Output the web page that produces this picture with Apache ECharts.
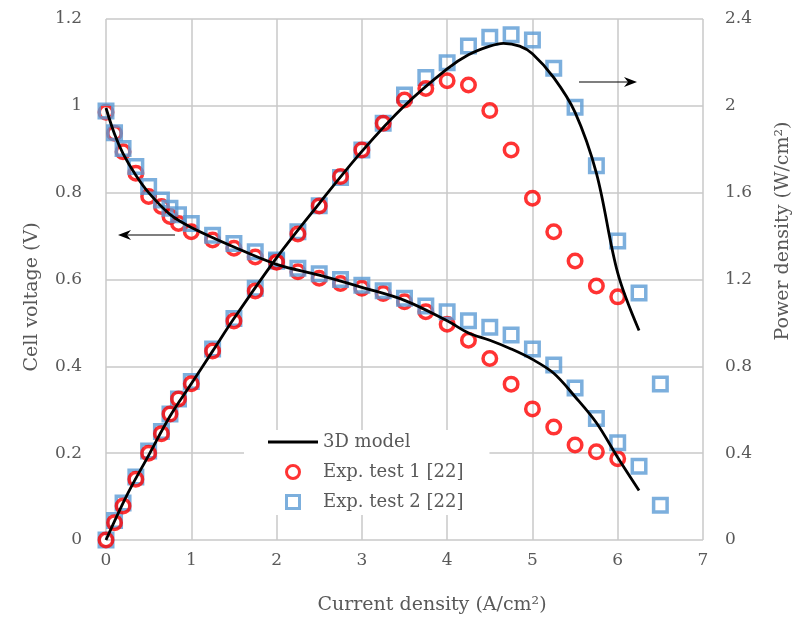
<!DOCTYPE html>
<html>
<head>
<meta charset="utf-8">
<script src="https://cdn.jsdelivr.net/npm/echarts@6/dist/echarts.min.js"></script>
<style>
  html, body { margin: 0; padding: 0; background: #fff; }
  #chart { width: 797px; height: 626px; }
</style>
</head>
<body>
<div id="chart"></div>
<script>
// current density (A/cm2)
var currentTest1 = [0, 0.1, 0.2, 0.35, 0.5, 0.65, 0.75, 0.85, 1, 1.25, 1.5, 1.75, 2, 2.25, 2.5, 2.75, 3, 3.25, 3.5, 3.75, 4, 4.25, 4.5, 4.75, 5, 5.25, 5.5, 5.75, 6]
var currentTest2 = [0, 0.1, 0.2, 0.35, 0.5, 0.65, 0.75, 0.85, 1, 1.25, 1.5, 1.75, 2, 2.25, 2.5, 2.75, 3, 3.25, 3.5, 3.75, 4, 4.25, 4.5, 4.75, 5, 5.25, 5.5, 5.75, 6, 6.25, 6.5]

// exp. test 1
var voltageTest1 = [0.985, 0.937, 0.894, 0.845, 0.791, 0.768, 0.745, 0.729, 0.71, 0.691, 0.672, 0.652, 0.641, 0.618, 0.603, 0.591, 0.58, 0.568, 0.549, 0.526, 0.497, 0.46, 0.418, 0.359, 0.302, 0.26, 0.219, 0.203, 0.187]
var powerTest1 = [0, 0.08, 0.157, 0.28, 0.4, 0.49, 0.58, 0.65, 0.72, 0.871, 1.009, 1.147, 1.28, 1.41, 1.539, 1.674, 1.797, 1.92, 2.027, 2.08, 2.116, 2.096, 1.978, 1.797, 1.574, 1.42, 1.285, 1.17, 1.12]

// exp. test 2
var voltageTest2 = [0.988, 0.938, 0.902, 0.86, 0.814, 0.783, 0.764, 0.749, 0.729, 0.702, 0.683, 0.664, 0.642, 0.626, 0.613, 0.6, 0.587, 0.574, 0.557, 0.539, 0.526, 0.505, 0.49, 0.472, 0.44, 0.403, 0.35, 0.28, 0.224, 0.17, 0.08]
var powerTest2 = [0, 0.09, 0.17, 0.29, 0.41, 0.5, 0.58, 0.65, 0.73, 0.88, 1.02, 1.16, 1.29, 1.42, 1.54, 1.67, 1.797, 1.92, 2.05, 2.13, 2.199, 2.276, 2.316, 2.327, 2.303, 2.173, 1.993, 1.724, 1.377, 1.138, 0.719]

// 3D model
var currentModelV = [0, 0.1, 0.2, 0.35, 0.5, 0.75, 1, 1.5, 2, 2.5, 3, 3.5, 4, 4.25, 4.5, 4.75, 5, 5.25, 5.5, 5.75, 6, 6.25]
var voltageModel = [0.995, 0.935, 0.89, 0.84, 0.8, 0.75, 0.72, 0.675, 0.635, 0.61, 0.582, 0.552, 0.505, 0.477, 0.46, 0.44, 0.416, 0.384, 0.33, 0.27, 0.19, 0.114]
var currentModelP = [0, 0.25, 0.5, 0.75, 1, 1.25, 1.5, 2, 2.5, 3, 3.5, 4, 4.25, 4.5, 4.66, 4.85, 5, 5.25, 5.5, 5.75, 6, 6.25]
var powerModel = [0, 0.21, 0.39, 0.57, 0.72, 0.87, 1.02, 1.3, 1.55, 1.79, 2.0, 2.17, 2.235, 2.275, 2.288, 2.275, 2.24, 2.13, 1.97, 1.69, 1.23, 0.965]

var voltageTicks = ['0', '0.2', '0.4', '0.6', '0.8', '1', '1.2']
var powerTicks = ['0', '0.4', '0.8', '1.2', '1.6', '2', '2.4']

function pairs(xs, ys) {
  return xs.map(function (x, i) { return [x, ys[i]] })
}

var font = 'DejaVu Serif'
var textColor = '#595959'
var gridColor = '#c8c8c8'
var red = '#ff0000'
var blue = '#5b9bd5'

var circleStyle = { color: 'transparent', borderColor: red, borderWidth: 3.5 }
var squareStyle = { color: 'transparent', borderColor: blue, borderWidth: 3.5 }

var chart = echarts.init(document.getElementById('chart'))

chart.setOption({
  animation: false,
  backgroundColor: '#fff',
  textStyle: { fontFamily: font },
  grid: { left: 106, right: 94, top: 19, bottom: 86 },
  legend: {
    orient: 'vertical',
    left: 244,
    top: 430,
    backgroundColor: '#fff',
    padding: [3, 26, 4, 24],
    itemWidth: 50,
    itemHeight: 13,
    itemGap: 12,
    symbolKeepAspect: true,
    textStyle: { fontFamily: font, fontSize: 18, color: textColor },
    data: [
      { name: '3D model', icon: 'path://M0,0H50V3H0Z', itemStyle: { color: '#000', borderWidth: 0 } },
      { name: 'Exp. test 1 [22]', icon: 'circle', itemStyle: { color: 'transparent', borderColor: red, borderWidth: 3 } },
      { name: 'Exp. test 2 [22]', icon: 'path://M0,0H10V10H0Z', itemStyle: { color: 'transparent', borderColor: blue, borderWidth: 3 } }
    ]
  },
  xAxis: {
    type: 'value',
    min: 0, max: 7, interval: 1,
    axisLine: { show: false },
    axisTick: { show: false },
    axisLabel: { fontFamily: font, fontSize: 17, color: textColor, margin: 12 },
    splitLine: { lineStyle: { color: gridColor, width: 1.5 } }
  },
  yAxis: [
    {
      type: 'value',
      min: 0, max: 1.2, interval: 0.2,
      axisLine: { show: false },
      axisTick: { show: false },
      axisLabel: {
        fontFamily: font, fontSize: 17, color: textColor, margin: 24,
        formatter: function (v, i) { return voltageTicks[i] }
      },
      splitLine: { lineStyle: { color: gridColor, width: 1.5 } }
    },
    {
      type: 'value',
      min: 0, max: 2.4, interval: 0.4,
      axisLine: { show: false },
      axisTick: { show: false },
      axisLabel: {
        fontFamily: font, fontSize: 17, color: textColor, margin: 22,
        formatter: function (v, i) { return powerTicks[i] }
      },
      splitLine: { show: false }
    }
  ],
  series: [
    {
      name: 'Exp. test 1 [22]', type: 'scatter', yAxisIndex: 0, z: 2,
      symbol: 'circle', symbolSize: 13.5, itemStyle: circleStyle,
      data: pairs(currentTest1, voltageTest1)
    },
    {
      name: 'Exp. test 2 [22]', type: 'scatter', yAxisIndex: 0, z: 3,
      symbol: 'rect', symbolSize: 13.5, itemStyle: squareStyle,
      data: pairs(currentTest2, voltageTest2)
    },
    {
      name: 'Exp. test 2 [22]', type: 'scatter', yAxisIndex: 1, z: 3,
      symbol: 'rect', symbolSize: 13.5, itemStyle: squareStyle,
      data: pairs(currentTest2, powerTest2)
    },
    {
      name: 'Exp. test 1 [22]', type: 'scatter', yAxisIndex: 1, z: 4,
      symbol: 'circle', symbolSize: 13.5, itemStyle: circleStyle,
      data: pairs(currentTest1, powerTest1)
    },
    {
      name: '3D model', type: 'line', yAxisIndex: 0, z: 5,
      symbol: 'none', smooth: 0.35,
      lineStyle: { color: '#000', width: 2.8 }, itemStyle: { color: '#000' },
      data: pairs(currentModelV, voltageModel)
    },
    {
      name: '3D model', type: 'line', yAxisIndex: 1, z: 5,
      symbol: 'none', smooth: 0.35,
      lineStyle: { color: '#000', width: 2.8 }, itemStyle: { color: '#000' },
      data: pairs(currentModelP, powerModel)
    }
  ],
  graphic: [
    // arrow to the voltage axis
    { type: 'line', shape: { x1: 126, y1: 235, x2: 175, y2: 235 }, style: { stroke: '#000', lineWidth: 1.2 }, z: 10 },
    { type: 'polygon', shape: { points: [[118, 235], [131, 230], [127, 235], [131, 240]] }, style: { fill: '#000' }, z: 10 },
    // arrow to the power axis
    { type: 'line', shape: { x1: 579, y1: 82, x2: 630, y2: 82 }, style: { stroke: '#000', lineWidth: 1.2 }, z: 10 },
    { type: 'polygon', shape: { points: [[637, 82], [624, 77], [628, 82], [624, 87]] }, style: { fill: '#000' }, z: 10 },
    // axis titles
    {
      type: 'text', x: 432, y: 605, z: 10,
      style: { text: 'Current density (A/cm²)', fontFamily: font, fontSize: 19, fill: textColor, align: 'center', verticalAlign: 'middle' }
    },
    {
      type: 'text', x: 32, y: 297, rotation: Math.PI / 2, z: 10,
      style: { text: 'Cell voltage (V)', fontFamily: font, fontSize: 19, fill: textColor, align: 'center', verticalAlign: 'middle' }
    },
    {
      type: 'text', x: 783, y: 231, rotation: Math.PI / 2, z: 10,
      style: { text: 'Power density (W/cm²)', fontFamily: font, fontSize: 19, fill: textColor, align: 'center', verticalAlign: 'middle' }
    }
  ]
})
</script>
</body>
</html>
